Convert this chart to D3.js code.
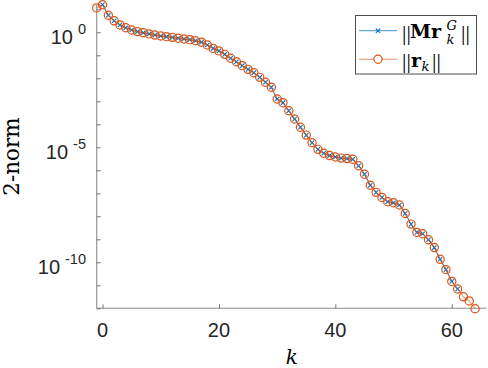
<!DOCTYPE html>
<html><head><meta charset="utf-8">
<script src="https://cdn.jsdelivr.net/npm/d3@7/dist/d3.min.js"></script>
<style>body{margin:0;background:#fff}svg{display:block}</style>
</head><body>
<svg id="c" width="488" height="368"></svg>
<script>
// ||r_k|| series (k = -1 .. 64)
const kR = [-1,0,1,2,3,4,5,6,7,8,9,10,11,12,13,14,15,16,17,18,19,20,21,22,23,24,25,26,27,28,29,30,31,32,33,34,35,36,37,38,39,40,41,42,43,44,45,46,47,48,49,50,51,52,53,54,55,56,57,58,59,60,61,62,63,64];
const rNorm = [1.15e1,1.58e1,5.5,3.16,2.09,1.58,1.26,1.07,0.955,0.851,0.759,0.692,0.646,0.603,0.550,0.513,0.479,0.427,0.372,0.282,0.200,0.155,0.110,7.41e-2,5.25e-2,3.55e-2,2.45e-2,1.74e-2,1.10e-2,6.76e-3,4.07e-3,1.26e-3,8.71e-4,3.89e-4,1.70e-4,7.41e-5,3.39e-5,1.58e-5,8.13e-6,5.50e-6,4.37e-6,3.80e-6,3.39e-6,3.24e-6,3.02e-6,1.58e-6,6.76e-7,2.24e-7,1.10e-7,6.61e-8,4.27e-8,3.89e-8,3.09e-8,1.32e-8,4.57e-9,2.00e-9,1.74e-9,9.55e-10,4.37e-10,1.35e-10,4.79e-11,1.48e-11,6.92e-12,3.16e-12,2.09e-12,9.55e-13];
// ||M r_k^G|| series (k = 0 .. 61)
const kM = [0,1,2,3,4,5,6,7,8,9,10,11,12,13,14,15,16,17,18,19,20,21,22,23,24,25,26,27,28,29,30,31,32,33,34,35,36,37,38,39,40,41,42,43,44,45,46,47,48,49,50,51,52,53,54,55,56,57,58,59,60,61];
const mNorm = [1.58e1,5.5,3.16,2.09,1.58,1.26,1.07,0.955,0.851,0.759,0.692,0.646,0.603,0.550,0.513,0.479,0.427,0.372,0.282,0.200,0.155,0.110,7.41e-2,5.25e-2,3.55e-2,2.45e-2,1.74e-2,1.10e-2,6.76e-3,4.07e-3,1.26e-3,8.71e-4,3.89e-4,1.70e-4,7.41e-5,3.39e-5,1.58e-5,8.13e-6,5.50e-6,4.37e-6,3.80e-6,3.39e-6,3.24e-6,3.02e-6,1.58e-6,6.76e-7,2.24e-7,1.10e-7,6.61e-8,4.27e-8,3.89e-8,3.09e-8,1.32e-8,4.57e-9,2.00e-9,1.74e-9,9.55e-10,4.37e-10,1.35e-10,4.79e-11,1.48e-11,6.92e-12];

const xTicks = [0,20,40,60];
const yMajor = [1e0,1e-5,1e-10];
const yMajorExp = ["0","-5","-10"];
const yMinor = [1e1,1e0,1e-1,1e-2,1e-3,1e-4,1e-5,1e-6,1e-7,1e-8,1e-9,1e-10,1e-11,1e-12];
const xDomain = [-1,66];
const yDomain = [1e-12, Math.pow(10,1.2)];

const BLUE = "#0072BD", ORANGE = "#D95319", AX = "#8f8f8f", TXT = "#262626";
const L = 96.7, R = 486.7, T = 4.7, B = 308.3;

const svg = d3.select("#c");
const x = d3.scaleLinear().domain(xDomain).range([L, R]);
const y = d3.scaleLog().domain(yDomain).range([B, T]);

// axes (MATLAB style, inward ticks, no box)
const xAxis = d3.axisBottom(x).tickValues(xTicks).tickSize(-4).tickFormat("");
const gx = svg.append("g").attr("transform", `translate(0,${B})`).call(xAxis);
const yAxis = d3.axisLeft(y).tickValues(yMinor).tickSize(-4).tickFormat("");
const gy = svg.append("g").attr("transform", `translate(${L},0)`).call(yAxis);
[gx, gy].forEach(g => {
  g.select(".domain").attr("stroke", AX).attr("stroke-width", 1.1);
  g.selectAll(".tick line").attr("stroke", "#555").attr("stroke-width", 0.8);
});
gx.select(".domain").attr("d", `M${L},0H${R}`);
gy.select(".domain").attr("d", `M0,${T}V${B}`);

// x tick labels
svg.append("g").selectAll("text").data(xTicks).join("text")
  .attr("x", d => x(d)).attr("y", B + 29)
  .attr("text-anchor", "middle")
  .attr("font-family", "Liberation Sans, Arial, sans-serif")
  .attr("font-size", 20).attr("fill", TXT)
  .text(d => d);

// y tick labels 10^n
const yl = svg.append("g").selectAll("text").data(yMajor).join("text")
  .attr("x", 86).attr("y", d => y(d) + 11.5)
  .attr("text-anchor", "end")
  .attr("font-family", "Liberation Sans, Arial, sans-serif")
  .attr("font-size", 20).attr("fill", TXT);
yl.append("tspan").text("10");
yl.append("tspan").attr("font-size", 14.5).attr("dx", 5).attr("dy", -9.5).text((d, i) => yMajorExp[i]);

// axis titles
svg.append("text")
  .attr("transform", `translate(18.5,${(T + B) / 2}) rotate(-90)`)
  .attr("text-anchor", "middle")
  .attr("font-family", "DejaVu Serif, serif")
  .attr("font-size", 21.5).attr("fill", "#000")
  .text("2-norm");
svg.append("text")
  .attr("x", (L + R) / 2).attr("y", 364)
  .attr("text-anchor", "middle")
  .attr("font-family", "DejaVu Serif, serif")
  .attr("font-style", "italic")
  .attr("font-size", 20).attr("fill", "#000")
  .text("k");

// series
const line = d3.line().x(d => x(d[0])).y(d => y(d[1]));
const mData = kM.map((k, i) => [k, mNorm[i]]);
const rData = kR.map((k, i) => [k, rNorm[i]]);

svg.append("path").datum(mData).attr("d", line)
  .attr("fill", "none").attr("stroke", BLUE).attr("stroke-width", 0.9);
const cross = d3.symbol().type(d3.symbolX).size(14);
svg.append("g").selectAll("path").data(mData).join("path")
  .attr("transform", d => `translate(${x(d[0])},${y(d[1])})`)
  .attr("d", cross).attr("fill", "none").attr("stroke", BLUE).attr("stroke-width", 1.1);

svg.append("path").datum(rData).attr("d", line)
  .attr("fill", "none").attr("stroke", ORANGE).attr("stroke-opacity", 0.55).attr("stroke-width", 1.2);
svg.append("g").selectAll("circle").data(rData).join("circle")
  .attr("cx", d => x(d[0])).attr("cy", d => y(d[1])).attr("r", 4.1)
  .attr("fill", "none").attr("stroke", ORANGE).attr("stroke-width", 1.2);

// legend
const lg = svg.append("g");
lg.append("rect").attr("x", 355.5).attr("y", 15.5).attr("width", 121).attr("height", 58.5)
  .attr("fill", "#fff").attr("stroke", "#4d4d4d").attr("stroke-width", 1);
lg.append("line").attr("x1", 359).attr("x2", 397).attr("y1", 30.7).attr("y2", 30.7)
  .attr("stroke", BLUE).attr("stroke-opacity", 0.75).attr("stroke-width", 1);
lg.append("path").attr("transform", "translate(378,30.7)").attr("d", cross)
  .attr("fill", "none").attr("stroke", BLUE).attr("stroke-width", 1.1);
lg.append("line").attr("x1", 359).attr("x2", 397).attr("y1", 59.3).attr("y2", 59.3)
  .attr("stroke", ORANGE).attr("stroke-opacity", 0.5).attr("stroke-width", 1.2);
lg.append("circle").attr("cx", 378).attr("cy", 59.3).attr("r", 4.1)
  .attr("fill", "#fff").attr("stroke", ORANGE).attr("stroke-width", 1.2);

function lt(xp, yp, s, opts) {
  const t = lg.append("text").attr("x", xp).attr("y", yp)
    .attr("font-family", opts.font || "DejaVu Serif, serif")
    .attr("font-size", opts.size || 20).attr("fill", "#000").text(s);
  if (opts.bold) t.attr("font-weight", "bold");
  if (opts.italic) t.attr("font-style", "italic");
  if (opts.ls != null) t.attr("letter-spacing", opts.ls);
  return t;
}
const barFont = "Liberation Serif, serif";
// row 1: ||M r_k^G||
lt(402, 39.5, "||", {font: barFont, size: 22, ls: 0});
lt(410, 38.3, "Mr", {bold: true, size: 19});
lt(446.5, 30, "G", {italic: true, size: 13});
lt(446.5, 44, "k", {italic: true, size: 13});
lt(461, 39.5, "||", {font: barFont, size: 22, ls: 0});
// row 2: ||r_k||
lt(402, 67.5, "||", {font: barFont, size: 22, ls: 0});
lt(411, 66.5, "r", {bold: true, size: 19});
lt(421.5, 71, "k", {italic: true, size: 13});
lt(432, 67.5, "||", {font: barFont, size: 22, ls: 0});
</script>
</body></html>
